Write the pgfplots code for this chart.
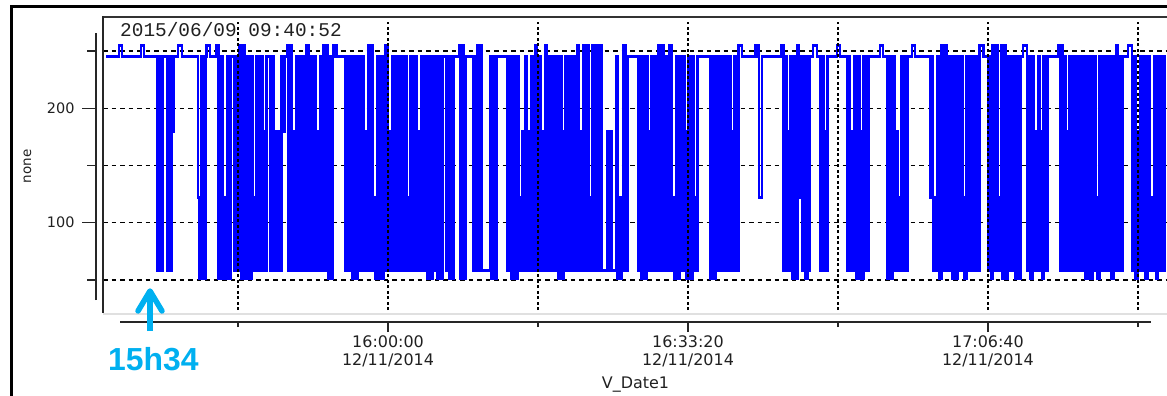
\documentclass[border=0pt]{standalone}
\usepackage{pgfplots}
\usepackage{pgfplotstable}
\pgfplotsset{compat=1.18}
\usepackage{fontspec}
\setmainfont{DejaVu Sans}
\newfontfamily\cour{Liberation Mono}
\newfontfamily\arial{Liberation Sans}
\definecolor{arrowcyan}{HTML}{00B0F0}
\definecolor{txt}{HTML}{202020}

% time in seconds since 15:00:00 on 12/11/2014, value of the signal
\pgfplotstableread{
t v
1720 245
1807 255
1827 245
1953 255
1973 245
2060 58
2075 245
2085 58
2097 245
2127 58
2140 245
2150 58
2160 180
2170 245
2200 255
2227 245
2333 122
2343 51
2356 245
2368 51
2382 245
2390 255
2413 245
2455 255
2470 51
2485 245
2500 51
2510 122
2520 51
2532 245
2540 51
2550 245
2573 58
2588 245
2598 58
2610 255
2620 51
2632 255
2645 51
2660 245
2675 51
2690 245
2700 58
2708 122
2715 58
2725 245
2740 58
2755 245
2762 58
2770 180
2778 58
2790 245
2813 58
2828 245
2840 58
2850 180
2858 58
2868 180
2876 58
2890 245
2903 180
2910 245
2930 255
2935 58
2948 255
2960 58
2972 180
2980 58
2992 245
3000 58
3015 245
3025 58
3040 245
3050 58
3058 255
3070 58
3082 245
3095 58
3108 245
3118 58
3126 180
3134 58
3148 245
3160 58
3172 255
3182 58
3195 255
3200 51
3212 245
3222 51
3230 245
3235 255
3255 245
3313 58
3328 245
3343 58
3358 245
3365 51
3378 245
3388 51
3400 245
3410 58
3425 245
3435 58
3445 180
3455 58
3467 255
3477 58
3490 255
3500 58
3507 122
3517 51
3530 245
3542 51
3555 245
3562 51
3568 122
3575 58
3585 255
3595 58
3607 180
3617 58
3630 245
3645 58
3660 245
3675 58
3690 245
3705 58
3718 245
3724 58
3730 122
3737 58
3750 245
3765 58
3780 245
3790 58
3800 180
3812 58
3825 245
3840 58
3853 245
3860 51
3873 245
3883 51
3895 245
3900 58
3908 245
3927 51
3940 245
3950 51
3962 245
3987 58
4000 245
4012 51
4025 245
4030 51
4037 245
4073 255
4080 51
4092 255
4102 51
4115 245
4167 58
4180 245
4190 58
4198 255
4205 58
4215 255
4225 58
4280 245
4290 51
4303 245
4312 51
4322 245
4393 58
4407 245
4420 51
4435 245
4448 51
4462 245
4470 58
4478 122
4485 58
4495 180
4503 58
4515 245
4525 58
4533 180
4543 58
4555 245
4568 58
4580 255
4592 58
4605 245
4615 58
4625 180
4635 58
4647 255
4660 58
4672 245
4685 58
4700 245
4712 58
4725 245
4738 51
4750 245
4760 51
4768 180
4775 58
4785 245
4797 58
4810 245
4822 58
4835 245
4847 58
4860 255
4870 58
4880 180
4887 58
4900 255
4912 58
4925 255
4935 58
4943 122
4950 58
4962 255
4975 58
4988 255
5000 58
5012 255
5025 58
5060 180
5070 58
5080 180
5090 58
5120 245
5130 51
5143 122
5150 51
5158 122
5165 58
5172 255
5182 58
5195 245
5267 58
5280 245
5287 51
5300 245
5310 51
5322 245
5330 58
5338 180
5346 58
5358 245
5370 58
5383 245
5393 58
5402 255
5413 58
5425 255
5435 58
5447 245
5467 58
5477 255
5487 58
5500 122
5510 51
5522 245
5532 51
5545 245
5557 58
5570 245
5578 58
5585 180
5592 51
5605 245
5615 51
5628 245
5635 58
5642 122
5650 58
5662 245
5747 51
5760 245
5770 51
5782 245
5800 58
5815 245
5830 58
5845 245
5860 58
5875 245
5885 58
5893 180
5900 58
5912 245
5922 58
5935 255
5960 245
6047 255
6067 245
6073 122
6093 245
6225 255
6235 58
6248 245
6256 58
6264 180
6272 58
6285 245
6295 51
6308 245
6318 51
6330 255
6340 122
6350 245
6360 58
6372 245
6385 51
6398 245
6405 58
6412 245
6433 255
6460 245
6480 58
6493 245
6505 58
6515 180
6522 58
6530 245
6593 255
6613 245
6660 58
6673 245
6680 58
6688 180
6696 58
6710 245
6722 51
6735 245
6742 51
6750 180
6757 51
6770 245
6780 58
6793 245
6798 58
6805 245
6880 255
6900 245
6927 51
6940 245
6952 51
6965 245
6975 58
6987 180
6995 58
7005 122
7013 58
7025 245
7037 58
7050 245
7057 58
7063 245
7093 255
7113 245
7213 122
7225 245
7233 58
7242 122
7250 58
7263 245
7275 51
7288 255
7300 58
7312 255
7322 58
7330 245
7335 58
7348 245
7360 51
7373 245
7385 51
7397 245
7408 58
7420 245
7427 58
7435 122
7442 51
7455 245
7468 58
7480 245
7492 58
7505 245
7515 58
7527 245
7537 58
7545 255
7567 245
7600 58
7612 245
7622 51
7630 255
7642 58
7655 255
7662 58
7670 122
7677 58
7688 255
7698 51
7710 255
7720 51
7732 245
7742 58
7755 245
7765 58
7775 245
7782 51
7795 245
7805 51
7815 245
7833 255
7860 58
7870 245
7882 51
7895 245
7905 58
7915 180
7925 58
7935 245
7945 58
7953 180
7960 51
7972 245
7982 58
7995 245
8067 255
8080 58
8090 255
8100 58
8112 245
8120 58
8127 180
8135 58
8145 245
8157 58
8170 245
8182 58
8195 245
8207 58
8220 245
8230 58
8245 245
8250 51
8262 245
8272 51
8285 245
8290 51
8297 180
8303 58
8312 245
8318 58
8323 122
8330 51
8342 245
8355 58
8367 245
8380 58
8392 245
8405 58
8415 245
8422 51
8435 245
8445 58
8455 255
8465 58
8477 245
8487 58
8497 245
8533 255
8560 58
8572 245
8585 51
8595 180
8603 58
8615 245
8627 58
8640 245
8652 51
8665 245
8677 58
8688 122
8696 58
8708 245
8720 51
8733 245
8745 58
8757 245
8765 58
8775 245
8785 245
}\sig

\begin{document}
\begin{tikzpicture}
\path[use as bounding box] (0,0) rectangle (1167bp,-396bp);
\fill[white] (0,0) rectangle (1167bp,-396bp);

% plot area: data + horizontal grid
\begin{axis}[
  at={(103bp,-313bp)}, anchor=south west,
  scale only axis, width=1064bp, height=296bp,
  xmin=1700, xmax=8793, ymin=21.2, ymax=279.7,
  axis line style={draw=none}, tick style={draw=none},
  xtick=\empty, ytick={50,100,150,200,250}, yticklabels={},
  tick label style={opacity=0},
  ymajorgrids,
  major grid style={black, line width=1.3bp, dash pattern=on 4.5bp off 4bp},
]
\addplot[const plot, color={rgb,255:red,0;green,0;blue,255}, line width=2.8bp, line join=miter] table[x=t, y=v] {\sig};
\end{axis}

% vertical grid, drawn over the data
\begin{axis}[
  at={(103bp,-310bp)}, anchor=south west,
  scale only axis, width=1064bp, height=288bp,
  xmin=1700, xmax=8793, ymin=0, ymax=1,
  axis line style={draw=none}, tick style={draw=none},
  xtick={2600,3600,...,8600}, xticklabels={}, ytick=\empty,
  tick label style={opacity=0},
  xmajorgrids,
  major grid style={black, line width=1.4bp, dash pattern=on 3bp off 2.5bp},
]
\end{axis}

% offset y axis
\begin{axis}[
  at={(96bp,-300bp)}, anchor=south west,
  scale only axis, width=10bp, height=267bp,
  xmin=0, xmax=1, ymin=32.5, ymax=265.7,
  axis x line=none, axis y line*=left,
  axis line style={-, black!85, line width=2bp},
  ytick={100,200}, yticklabels={100,200},
  minor ytick={50,150,250},
  tick align=outside, major tick length=14bp, minor tick length=9bp,
  every tick/.style={black!85, line width=1.3bp},
  yticklabel style={font=\fontsize{14.5}{16}\selectfont, color=txt, xshift=-4bp},
  /pgf/number format/assume math mode=true,
]
\end{axis}

% offset x axis
\begin{axis}[
  at={(120bp,-322bp)}, anchor=south west,
  scale only axis, width=1031bp, height=10bp,
  xmin=1813, xmax=8687, ymin=0, ymax=1,
  axis y line=none, axis x line*=bottom,
  axis line style={-, black!85, line width=2bp},
  xtick={3600,5600,7600},
  xticklabels={{16:00:00\\12/11/2014},{16:33:20\\12/11/2014},{17:06:40\\12/11/2014}},
  minor xtick={2600,4600,6600,8600},
  tick align=outside, major tick length=10bp, minor tick length=5bp,
  every tick/.style={black!85, line width=1.3bp},
  xticklabel style={align=center, font=\fontsize{16}{18.5}\selectfont, color=txt},
  xlabel={V\_Date1},
  xlabel style={font=\fontsize{16}{18}\selectfont, color=txt, yshift=-3bp},
]
\end{axis}

% frame of the plot area and window border
\draw[black!80, line width=2bp] (103bp,-16.5bp) -- (1167bp,-16.5bp);
\draw[black!85, line width=2.2bp] (103bp,-16bp) -- (103bp,-313bp);
\draw[black!12, line width=2.5bp] (103bp,-314bp) -- (1167bp,-314bp);
\draw[black, line width=3bp] (10bp,-6.5bp) -- (1167bp,-6.5bp);
\draw[black, line width=3bp] (11.5bp,-5bp) -- (11.5bp,-396bp);

% texts
\node[anchor=base west, inner sep=0pt, text=txt] at (120bp,-36.5bp) {\cour\fontsize{19.5}{21}\selectfont 2015/06/09 09:40:52};
\node[rotate=90, inner sep=0pt, text=txt] at (27.5bp,-166.5bp) {\fontsize{13.5}{15}\selectfont none};

% annotation
\draw[arrowcyan, line width=5.5bp] (150bp,-331bp) -- (150bp,-293bp);
\draw[arrowcyan, line width=5.5bp, line join=round, line cap=round] (138bp,-311bp) -- (150bp,-291bp) -- (162bp,-311bp);
\node[anchor=base west, inner sep=0pt, text=arrowcyan] at (108bp,-370bp) {\arial\bfseries\fontsize{32}{34}\selectfont 15h34};
\end{tikzpicture}
\end{document}
